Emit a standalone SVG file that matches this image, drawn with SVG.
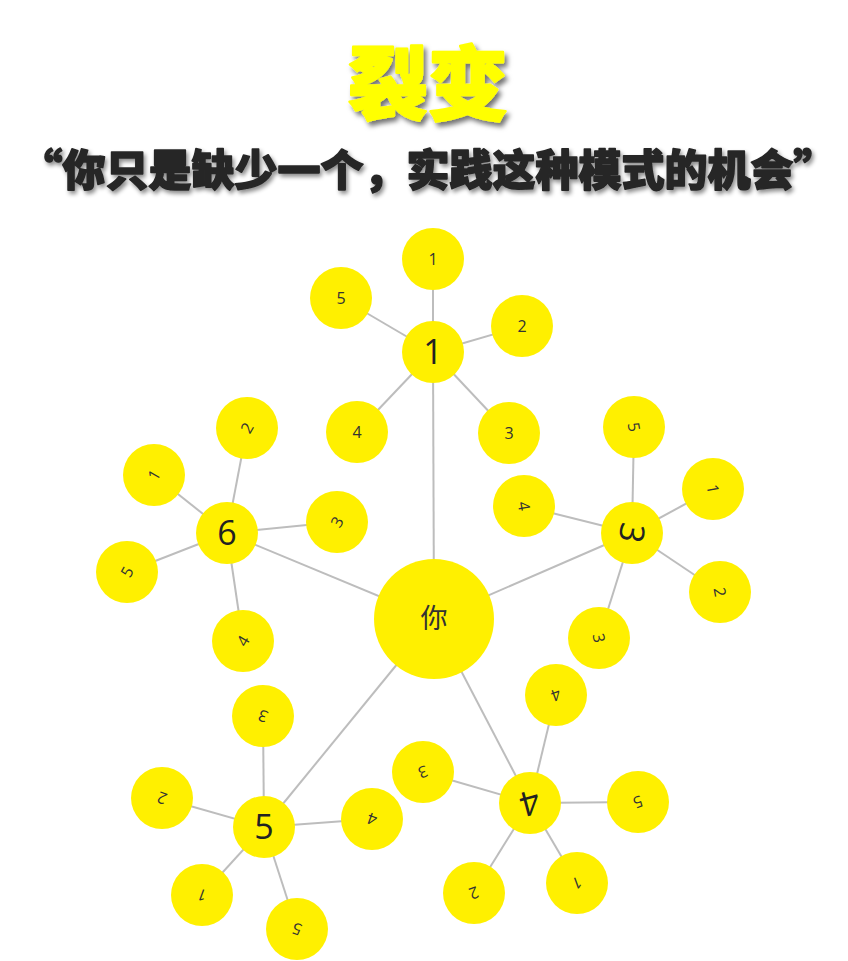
<svg xmlns="http://www.w3.org/2000/svg" width="848" height="961" viewBox="0 0 848 961">
<defs>
<filter id="sh" x="-10%" y="-20%" width="130%" height="150%">
<feDropShadow dx="3" dy="4" stdDeviation="2.5" flood-color="#000" flood-opacity="0.55"/>
</filter>
<filter id="sh2" x="-10%" y="-20%" width="130%" height="150%">
<feDropShadow dx="2" dy="3" stdDeviation="2" flood-color="#000" flood-opacity="0.45"/>
</filter>
</defs>
<style>
.bg{fill:#fff}
.t1{font-family:"Noto Sans CJK SC","Noto Sans",sans-serif;font-size:80px;font-weight:900;fill:#FFFF00;stroke:#FFFF00;stroke-width:2.5;stroke-linejoin:round;text-anchor:middle}
.t2{font-family:"Noto Sans CJK SC","Noto Sans",sans-serif;font-size:43px;font-weight:900;fill:#262626;stroke:#262626;stroke-width:1.6;stroke-linejoin:round;text-anchor:middle}
.e line{stroke:#BDBDBD;stroke-width:2}
circle{fill:#FFF000}
.s text{font-family:"Open Sans","Noto Sans",sans-serif;font-size:16px;fill:#333;text-anchor:middle}
.h text{font-family:"Open Sans","Noto Sans",sans-serif;font-size:34px;fill:#222;text-anchor:middle}
.c text{font-family:"Noto Sans CJK SC",sans-serif;font-size:27px;fill:#333;text-anchor:middle}
</style>
<rect class="bg" x="0" y="0" width="848" height="961"/>
<text class="t1" x="428" y="113" filter="url(#sh)">裂变</text>
<text class="t2" x="428" y="186" filter="url(#sh2)">“你只是缺少一个，实践这种模式的机会”</text>

<g id="connectors" class="e">
<line x1="434" y1="619" x2="433" y2="352"/>
<line x1="434" y1="619" x2="632" y2="533"/>
<line x1="434" y1="619" x2="530" y2="803"/>
<line x1="434" y1="619" x2="264" y2="827"/>
<line x1="434" y1="619" x2="227" y2="533"/>
<line x1="433" y1="352" x2="433" y2="259"/>
<line x1="433" y1="352" x2="522" y2="326"/>
<line x1="433" y1="352" x2="509" y2="433"/>
<line x1="433" y1="352" x2="357" y2="432"/>
<line x1="433" y1="352" x2="341" y2="298"/>
<line x1="632" y1="533" x2="634" y2="427"/>
<line x1="632" y1="533" x2="713" y2="489"/>
<line x1="632" y1="533" x2="720" y2="592"/>
<line x1="632" y1="533" x2="599" y2="638"/>
<line x1="632" y1="533" x2="524" y2="506"/>
<line x1="530" y1="803" x2="556" y2="695"/>
<line x1="530" y1="803" x2="423" y2="772"/>
<line x1="530" y1="803" x2="638" y2="802"/>
<line x1="530" y1="803" x2="577" y2="883"/>
<line x1="530" y1="803" x2="474" y2="893"/>
<line x1="264" y1="827" x2="263" y2="716"/>
<line x1="264" y1="827" x2="162" y2="798"/>
<line x1="264" y1="827" x2="202" y2="895"/>
<line x1="264" y1="827" x2="297" y2="929"/>
<line x1="264" y1="827" x2="372" y2="819"/>
<line x1="227" y1="533" x2="247" y2="428"/>
<line x1="227" y1="533" x2="154" y2="475"/>
<line x1="227" y1="533" x2="127" y2="572"/>
<line x1="227" y1="533" x2="243" y2="641"/>
<line x1="227" y1="533" x2="337" y2="522"/>
</g>

<g id="node-center" class="c"><circle cx="434" cy="619" r="60"/><text x="434" y="619" dy="0.35em">你</text></g>

<g id="hub-1" class="h"><circle cx="433" cy="352" r="31"/><text x="433" y="352" dy="0.36em">1</text></g>
<g id="n1-1" class="s"><circle cx="433" cy="259" r="31"/><text x="433" y="259" dy="0.36em">1</text></g>
<g id="n1-2" class="s"><circle cx="522" cy="326" r="31"/><text x="522" y="326" dy="0.36em">2</text></g>
<g id="n1-3" class="s"><circle cx="509" cy="433" r="31"/><text x="509" y="433" dy="0.36em">3</text></g>
<g id="n1-4" class="s"><circle cx="357" cy="432" r="31"/><text x="357" y="432" dy="0.36em">4</text></g>
<g id="n1-5" class="s"><circle cx="341" cy="298" r="31"/><text x="341" y="298" dy="0.36em">5</text></g>

<g id="hub-3" class="h"><circle cx="632" cy="533" r="31"/><text x="632" y="533" dy="0.36em" transform="rotate(100 632 533)">3</text></g>
<g id="n3-1" class="s"><circle cx="713" cy="489" r="31"/><text x="713" y="489" dy="0.36em" transform="rotate(80 713 489)">1</text></g>
<g id="n3-2" class="s"><circle cx="720" cy="592" r="31"/><text x="720" y="592" dy="0.36em" transform="rotate(80 720 592)">2</text></g>
<g id="n3-3" class="s"><circle cx="599" cy="638" r="31"/><text x="599" y="638" dy="0.36em" transform="rotate(80 599 638)">3</text></g>
<g id="n3-4" class="s"><circle cx="524" cy="506" r="31"/><text x="524" y="506" dy="0.36em" transform="rotate(80 524 506)">4</text></g>
<g id="n3-5" class="s"><circle cx="634" cy="427" r="31"/><text x="634" y="427" dy="0.36em" transform="rotate(80 634 427)">5</text></g>

<g id="hub-4" class="h"><circle cx="530" cy="803" r="31"/><text x="530" y="803" dy="0.36em" transform="rotate(165 530 803)">4</text></g>
<g id="n4-1" class="s"><circle cx="577" cy="883" r="31"/><text x="577" y="883" dy="0.36em" transform="rotate(160 577 883)">1</text></g>
<g id="n4-2" class="s"><circle cx="474" cy="893" r="31"/><text x="474" y="893" dy="0.36em" transform="rotate(160 474 893)">2</text></g>
<g id="n4-3" class="s"><circle cx="423" cy="772" r="31"/><text x="423" y="772" dy="0.36em" transform="rotate(160 423 772)">3</text></g>
<g id="n4-4" class="s"><circle cx="556" cy="695" r="31"/><text x="556" y="695" dy="0.36em" transform="rotate(160 556 695)">4</text></g>
<g id="n4-5" class="s"><circle cx="638" cy="802" r="31"/><text x="638" y="802" dy="0.36em" transform="rotate(160 638 802)">5</text></g>

<g id="hub-5" class="h"><circle cx="264" cy="827" r="31"/><text x="264" y="827" dy="0.36em">5</text></g>
<g id="n5-1" class="s"><circle cx="202" cy="895" r="31"/><text x="202" y="895" dy="0.36em" transform="rotate(200 202 895)">1</text></g>
<g id="n5-2" class="s"><circle cx="162" cy="798" r="31"/><text x="162" y="798" dy="0.36em" transform="rotate(200 162 798)">2</text></g>
<g id="n5-3" class="s"><circle cx="263" cy="716" r="31"/><text x="263" y="716" dy="0.36em" transform="rotate(200 263 716)">3</text></g>
<g id="n5-4" class="s"><circle cx="372" cy="819" r="31"/><text x="372" y="819" dy="0.36em" transform="rotate(200 372 819)">4</text></g>
<g id="n5-5" class="s"><circle cx="297" cy="929" r="31"/><text x="297" y="929" dy="0.36em" transform="rotate(200 297 929)">5</text></g>

<g id="hub-6" class="h"><circle cx="227" cy="533" r="31"/><text x="227" y="533" dy="0.36em">6</text></g>
<g id="n6-1" class="s"><circle cx="154" cy="475" r="31"/><text x="154" y="475" dy="0.36em" transform="rotate(-60 154 475)">1</text></g>
<g id="n6-2" class="s"><circle cx="247" cy="428" r="31"/><text x="247" y="428" dy="0.36em" transform="rotate(-60 247 428)">2</text></g>
<g id="n6-3" class="s"><circle cx="337" cy="522" r="31"/><text x="337" y="522" dy="0.36em" transform="rotate(-60 337 522)">3</text></g>
<g id="n6-4" class="s"><circle cx="243" cy="641" r="31"/><text x="243" y="641" dy="0.36em" transform="rotate(-60 243 641)">4</text></g>
<g id="n6-5" class="s"><circle cx="127" cy="572" r="31"/><text x="127" y="572" dy="0.36em" transform="rotate(-60 127 572)">5</text></g>
</svg>
